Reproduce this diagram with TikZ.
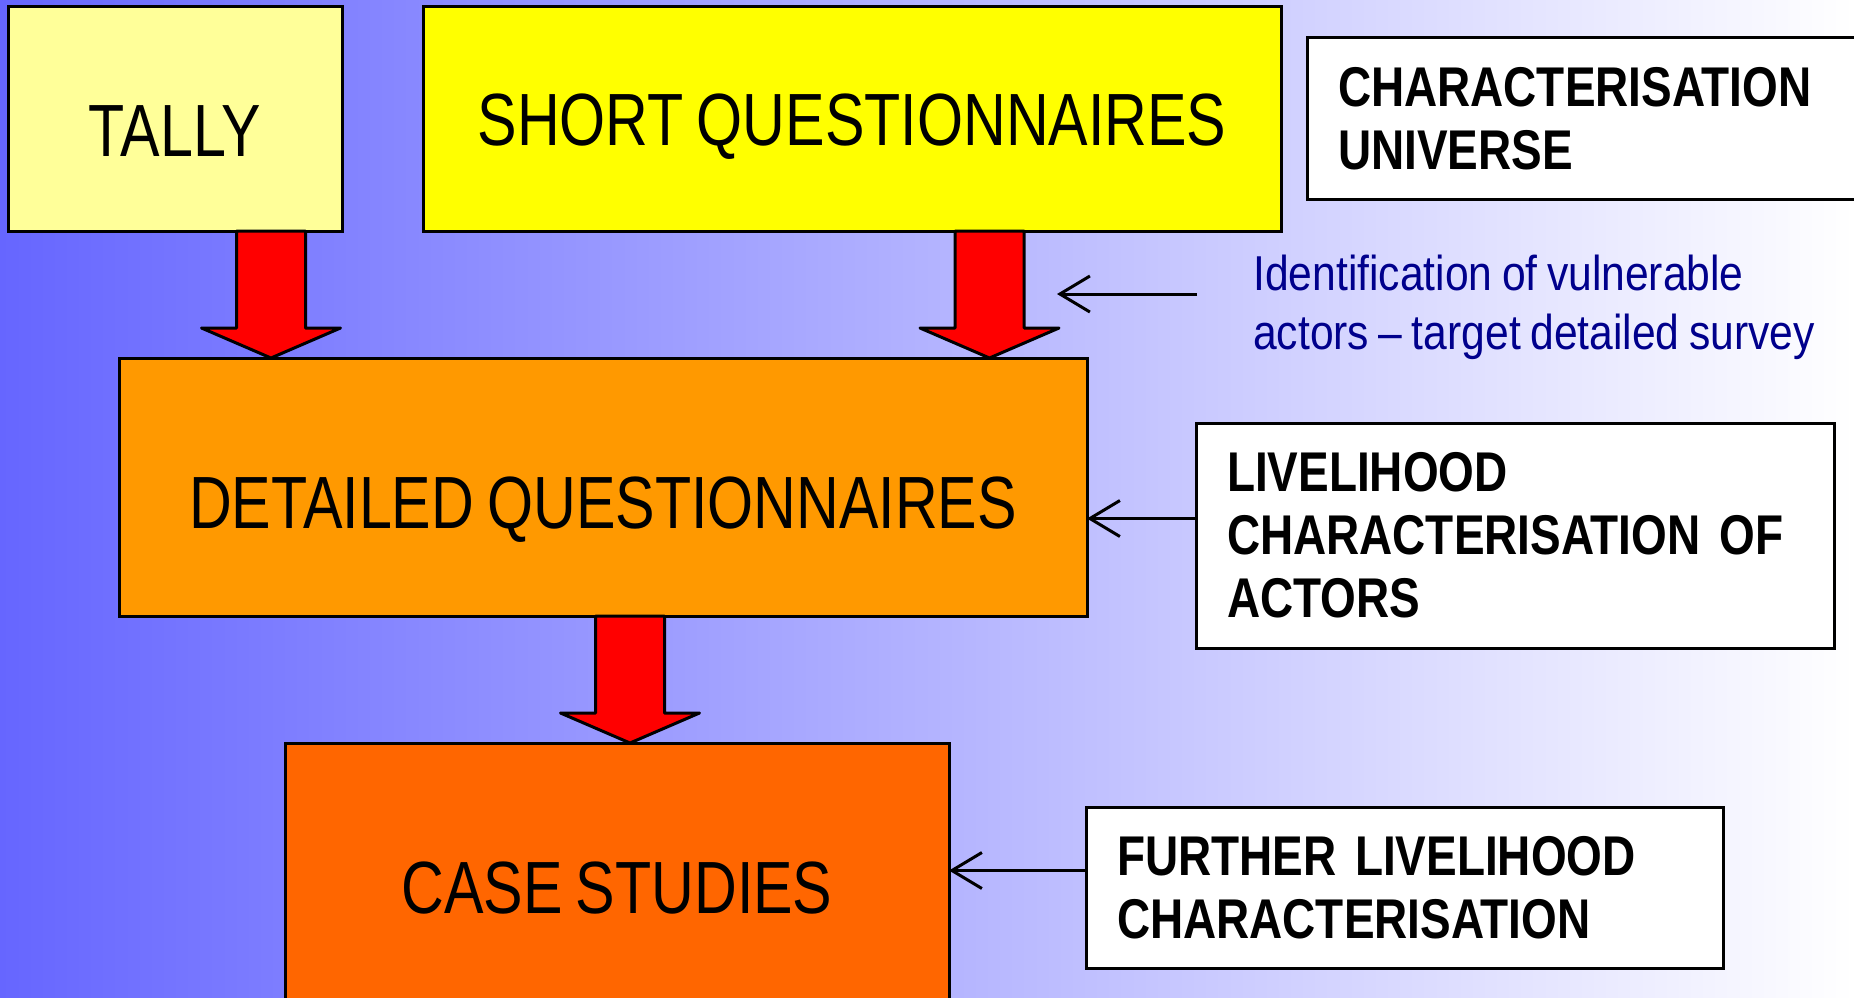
\documentclass[tikz,border=0pt]{standalone}
\usepackage{fontspec}
\setmainfont{Liberation Sans}
\newfontfamily\boxfont[FakeStretch=0.8, WordSpace=0.8]{Liberation Sans}
\newfontfamily\labelfont[FakeStretch=0.82, WordSpace=0.6]{Liberation Sans}
\newfontfamily\notefont[FakeStretch=0.87, WordSpace=0.8]{Liberation Sans}
\usepackage{tikz}
\usetikzlibrary{positioning, calc, arrows.meta}

\definecolor{bgleft}{RGB}{102,102,255}
\definecolor{bgmid}{RGB}{185,185,255}
\definecolor{tallyyellow}{RGB}{255,255,153}
\definecolor{shortyellow}{RGB}{255,255,0}
\definecolor{detailorange}{RGB}{255,153,0}
\definecolor{caseorange}{RGB}{255,102,0}
\definecolor{notenavy}{RGB}{0,0,140}

% fat red arrow: x position, source node, target node
\newcommand{\redarrow}[3]{%
  \coordinate (ra-top) at (#1,0 |- #2.south);
  \coordinate (ra-tip) at (#1,0 |- #3.north);
  \draw[fatarrow] ([xshift=-34.5pt]ra-top) -- ([xshift=34.5pt]ra-top)
    -- ([xshift=34.5pt,yshift=30pt]ra-tip) -- ([xshift=69.5pt,yshift=30pt]ra-tip)
    -- (ra-tip) -- ([xshift=-69.5pt,yshift=30pt]ra-tip)
    -- ([xshift=-34.5pt,yshift=30pt]ra-tip) -- cycle;
}

\begin{document}
\begin{tikzpicture}[x=1pt, y=-1pt,
mainbox/.style={rectangle,
  draw=black,
  line width=3pt,
  outer sep=0pt,
  inner sep=0pt,
  font=\boxfont\fontsize{74}{80}\selectfont,
  text height=53pt,
  text depth=0pt
},
labelbox/.style={rectangle,
  draw=black,
  fill=white,
  line width=3pt,
  outer sep=0pt,
  inner xsep=31pt,
  inner ysep=0pt,
  align=left,
  font=\labelfont\bfseries\fontsize{56}{63}\selectfont
},
fatarrow/.style={draw=black, fill=red, line width=3pt, line join=round},
thinarrow/.style={draw=black, line width=3pt,
  -{Straight Barb[length=30pt, width=36pt]}}
]

\useasboundingbox (0,0) rectangle (1854,997);
\clip (0,0) rectangle (1854,997);
\fill[left color=bgleft, middle color=bgmid, right color=white] (0,0) rectangle (1854,997);

\node[mainbox, fill=tallyyellow, minimum width=334pt, minimum height=225pt,
    text height=75pt, anchor=north west] (tally) at (8,6)
    {TALLY};
\node[mainbox, fill=shortyellow, minimum width=858pt, minimum height=225pt,
    right=81pt of tally] (short)
    {SHORT QUESTIONNAIRES};
\node[labelbox, text width=538pt, minimum height=162pt, right=26pt of short] (universe)
    {CHARACTERISATION\\UNIVERSE};

\node[mainbox, fill=detailorange, minimum width=968pt, minimum height=258pt,
    text height=83pt, anchor=north west] (detailed) at (119,358)
    {DETAILED QUESTIONNAIRES};
\node[labelbox, text width=576pt, minimum height=225pt, anchor=north west] (actors) at (1196,423)
    {LIVELIHOOD\\CHARACTERISATION OF\\ACTORS};

\node[mainbox, fill=caseorange, minimum width=664pt, minimum height=288pt,
    anchor=north west] (case) at (285,743)
    {CASE STUDIES};
\node[labelbox, text width=575pt, minimum height=161pt, anchor=north west] (further) at (1086,807)
    {FURTHER LIVELIHOOD\\CHARACTERISATION};

\node[font=\notefont\fontsize{49}{59}\selectfont, text=notenavy, align=left,
    inner sep=0pt, anchor=north west] (note) at (1253,255)
    {Identification of vulnerable\\actors – target detailed survey};

\redarrow{271}{tally}{detailed}
\redarrow{989.5}{short}{detailed}
\redarrow{630}{detailed}{case}

\coordinate (notetail) at (1197,294);
\coordinate (notetip) at (1057,294);
\draw[thinarrow] (notetail) -- (notetip);
\draw[thinarrow] ([yshift=17pt]actors.west) -- ([yshift=17pt]actors.west -| detailed.east);
\draw[thinarrow] ([yshift=17pt]further.west) -- ([yshift=17pt]further.west -| case.east);
\end{tikzpicture}
\end{document}
